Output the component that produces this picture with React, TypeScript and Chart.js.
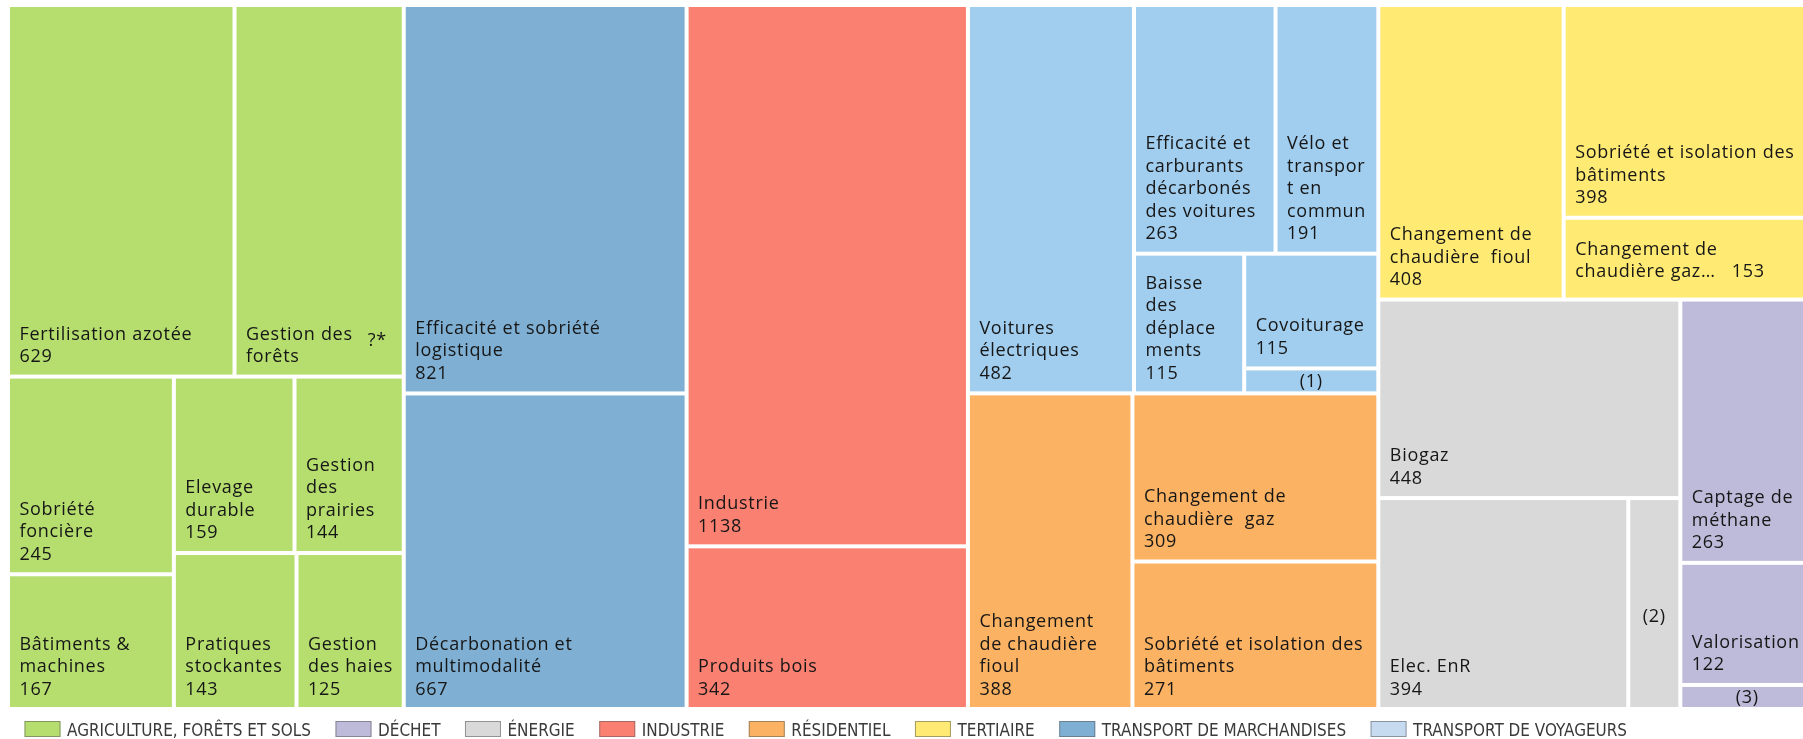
import { useEffect, useRef } from 'react';
import { Chart, registerables } from 'chart.js';

Chart.register(...registerables);

// ---------- DATA ----------
const sectorNames = [
  'AGRICULTURE, FORÊTS ET SOLS',
  'DÉCHET',
  'ÉNERGIE',
  'INDUSTRIE',
  'RÉSIDENTIEL',
  'TERTIAIRE',
  'TRANSPORT DE MARCHANDISES',
  'TRANSPORT DE VOYAGEURS',
];

const agricultureLabels = [
  'Fertilisation azotée',
  'Gestion des\nforêts',
  'Sobriété\nfoncière',
  'Bâtiments &\nmachines',
  'Elevage\ndurable',
  'Gestion\ndes\nprairies',
  'Pratiques\nstockantes',
  'Gestion\ndes haies',
];
const agricultureValues = [629, 470, 245, 167, 159, 144, 143, 125];

const dechetLabels = ['Captage de\nméthane', 'Valorisation', '(3)'];
const dechetValues = [263, 122, 24];

const energieLabels = ['Biogaz', 'Elec. EnR', '(2)'];
const energieValues = [448, 394, 82];

const industrieLabels = ['Industrie', 'Produits bois'];
const industrieValues = [1138, 342];

const residentielLabels = [
  'Changement\nde chaudière\nfioul',
  'Changement de\nchaudière  gaz',
  'Sobriété et isolation des\nbâtiments',
];
const residentielValues = [388, 309, 271];

const tertiaireLabels = [
  'Changement de\nchaudière  fioul',
  'Sobriété et isolation des\nbâtiments',
  'Changement de\nchaudière gaz…',
];
const tertiaireValues = [408, 398, 153];

const marchandisesLabels = ['Efficacité et sobriété\nlogistique', 'Décarbonation et\nmultimodalité'];
const marchandisesValues = [821, 667];

const voyageursLabels = [
  'Voitures\nélectriques',
  'Efficacité et\ncarburants\ndécarbonés\ndes voitures',
  'Vélo et\ntranspor\nt en\ncommun',
  'Baisse\ndes\ndéplace\nments',
  'Covoiturage',
  '(1)',
];
const voyageursValues = [482, 263, 191, 115, 115, 25];

// value shown instead of the number (value not published)
const valueOverrides: Record<string, string> = { 'Gestion des\nforêts': '?*' };

const cellLabels = [
  agricultureLabels, dechetLabels, energieLabels, industrieLabels,
  residentielLabels, tertiaireLabels, marchandisesLabels, voyageursLabels,
];
const cellValues = [
  agricultureValues, dechetValues, energieValues, industrieValues,
  residentielValues, tertiaireValues, marchandisesValues, voyageursValues,
];

// ---------- STYLE ----------
const cellColors = ['#B5DE6E', '#BEBAD9', '#D9D9D9', '#FA8072', '#FBB263', '#FFEB73', '#7FB0D4', '#A1CDEE'];
const legendColors = ['#B5DE6E', '#BEBAD9', '#D9D9D9', '#FA8072', '#FBB263', '#FFEB73', '#7FB0D4', '#C6DBEF'];

// ---------- LAYOUT STRUCTURE (slice directions only, sizes come from values) ----------
type Tree = number | { d: 'h' | 'v'; c: Tree[] };
const H = (...c: Tree[]): Tree => ({ d: 'h', c });
const V = (...c: Tree[]): Tree => ({ d: 'v', c });

const groupTrees: Tree[] = [
  V(H(0, 1), H(V(2, 3), V(H(4, 5), H(6, 7)))),
  V(0, 1, 2),
  V(0, H(1, 2)),
  V(0, 1),
  H(0, V(1, 2)),
  H(0, V(1, 2)),
  V(0, 1),
  H(0, V(H(1, 2), H(3, V(4, 5)))),
];
const topTree: Tree = H(0, 6, 3, V(7, 4), V(5, H(2, 1)));

type Rect = { x0: number; y0: number; x1: number; y1: number };
type Cell = { s: number; i: number; r: Rect };

function sumTree(t: Tree, val: (i: number) => number): number {
  if (typeof t === 'number') return val(t);
  return t.c.reduce((a, c) => a + sumTree(c, val), 0);
}

function layoutTree(t: Tree, r: Rect, val: (i: number) => number, leaf: (i: number, r: Rect) => void) {
  if (typeof t === 'number') { leaf(t, r); return; }
  const total = sumTree(t, val);
  let pos = t.d === 'h' ? r.x0 : r.y0;
  const span = t.d === 'h' ? r.x1 - r.x0 : r.y1 - r.y0;
  t.c.forEach((c) => {
    const len = (span * sumTree(c, val)) / total;
    const sub = t.d === 'h'
      ? { x0: pos, x1: pos + len, y0: r.y0, y1: r.y1 }
      : { x0: r.x0, x1: r.x1, y0: pos, y1: pos + len };
    layoutTree(c, sub, val, leaf);
    pos += len;
  });
}

function computeCells(): Cell[] {
  const cells: Cell[] = [];
  const groupSum = (s: number) => cellValues[s].reduce((a, b) => a + b, 0);
  layoutTree(topTree, { x0: 0, y0: 0, x1: 1, y1: 1 }, groupSum, (s, gr) => {
    layoutTree(groupTrees[s], gr, (i) => cellValues[s][i], (i, r) => cells.push({ s, i, r }));
  });
  return cells;
}

const CELL_FONT = '18px "Open Sans", sans-serif';
const LEGEND_FONT = '17px "Liberation Sans Narrow", "DejaVu Sans Condensed", "Liberation Sans", sans-serif';

const treemapPlugin = {
  id: 'treemapCells',
  afterDatasetsDraw(chart: any) {
    const { ctx, scales } = chart;
    const xs = scales.x, ys = scales.y;
    const cells = computeCells();
    ctx.save();
    cells.forEach(({ s, i, r }) => {
      const left = xs.getPixelForValue(r.x0) + 2;
      const right = xs.getPixelForValue(r.x1) - 2;
      const top = ys.getPixelForValue(r.y0) + 2;
      const bottom = ys.getPixelForValue(r.y1) - 2;
      ctx.fillStyle = cellColors[s];
      ctx.fillRect(left, top, right - left, bottom - top);

      const label = cellLabels[s][i];
      const value = cellValues[s][i];
      ctx.font = CELL_FONT;
      (ctx as any).letterSpacing = '0.7px';
      ctx.fillStyle = '#161616';
      ctx.textBaseline = 'alphabetic';
      const lh = 22.5;
      if (/^\(\d\)$/.test(label)) {
        ctx.textAlign = 'center';
        const h = bottom - top;
        const shift = h > 60 ? 18 : 6.5;
        ctx.fillText(label, (left + right) / 2, (top + bottom) / 2 + shift);
        return;
      }
      ctx.textAlign = 'left';
      const tx = left + 9.5;
      const lines = label.split('\n');
      let base = bottom - 12.5;
      if (valueOverrides[label] !== undefined) {
        ctx.textAlign = 'right';
        ctx.fillText(valueOverrides[label], right - 15, base - 16);
        ctx.textAlign = 'left';
      } else if (label.endsWith('…')) {
        lines[lines.length - 1] = lines[lines.length - 1] + '   ' + String(value);
        base = bottom - 20.5;
      } else {
        lines.push(String(value));
      }
      for (let k = lines.length - 1, j = 0; k >= 0; k--, j++) {
        ctx.fillText(lines[k], tx, base - j * lh);
      }
    });
    ctx.restore();
  },
  afterDraw(chart: any) {
    const { ctx } = chart;
    ctx.save();
    ctx.font = LEGEND_FONT;
    (ctx as any).letterSpacing = '0px';
    const w0 = ctx.measureText(sectorNames[0]).width;
    const sx = Math.min(1.3, 244 / w0);
    let x = 24.5;
    const boxTop = 721;
    sectorNames.forEach((name, s) => {
      ctx.fillStyle = legendColors[s];
      ctx.fillRect(x, boxTop, 36, 16);
      ctx.strokeStyle = 'rgba(90,90,90,0.55)';
      ctx.lineWidth = 1;
      ctx.strokeRect(x + 0.5, boxTop + 0.5, 35, 15);
      const tw = ctx.measureText(name).width * sx;
      ctx.fillStyle = '#3a3a3a';
      ctx.textAlign = 'left';
      ctx.textBaseline = 'alphabetic';
      ctx.save();
      ctx.translate(x + 42.5, boxTop + 14.5);
      ctx.scale(sx, 1);
      ctx.fillText(name, 0, 0);
      ctx.restore();
      x += 42.5 + tw + 24.5;
    });
    ctx.restore();
  },
};

export default function App() {
  const ref = useRef<HTMLCanvasElement | null>(null);
  useEffect(() => {
    if (!ref.current) return;
    const chart = new Chart(ref.current, {
      type: 'scatter',
      data: {
        datasets: sectorNames.map((name, s) => ({
          label: name,
          data: [],
          backgroundColor: legendColors[s],
        })),
      },
      options: {
        responsive: false,
        maintainAspectRatio: false,
        animation: false,
        devicePixelRatio: 1,
        layout: { padding: { left: 8, top: 5, right: 0, bottom: 30 } },
        scales: {
          x: { type: 'linear', min: 0, max: 1, display: false },
          y: { type: 'linear', min: 0, max: 1, reverse: true, display: false },
        },
        plugins: {
          legend: { display: false },
          tooltip: { enabled: false },
        },
      },
      plugins: [treemapPlugin],
    });
    return () => chart.destroy();
  }, []);
  return (
    <div style={{ position: 'fixed', left: 0, top: 0, width: 1803, height: 739, overflow: 'hidden', background: '#fff' }}>
      <canvas ref={ref} width={1814} height={739} style={{ display: 'block' }} />
    </div>
  );
}
